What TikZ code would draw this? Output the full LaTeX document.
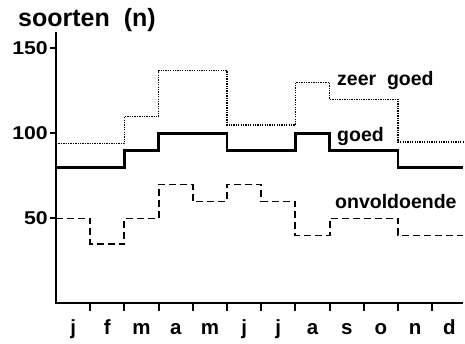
\documentclass[tikz,border=0pt]{standalone}
\usepackage{fontspec}
\setmainfont{Liberation Sans}
\begin{document}
\begin{tikzpicture}[x=1pt,y=1pt,
  axis/.style={line width=2pt},
  ytick/.style={anchor=east, inner sep=0pt, font=\fontsize{18.5}{20}\selectfont\bfseries},
  month/.style={anchor=base, inner sep=0pt, font=\fontsize{20.5}{22}\selectfont\bfseries},
  lbl/.style={anchor=base west, inner sep=0pt, font=\fontsize{19.5}{22}\selectfont\bfseries},
  zg/.style={line width=1.4pt, dash pattern=on 1.3pt off 1.1pt},
  gd/.style={line width=2.6pt},
  ov/.style={line width=1.9pt, dash pattern=on 7pt off 4pt}]
\useasboundingbox (0,0) rectangle (465,344);
\node[anchor=base west, inner sep=0pt, font=\fontsize{25}{30}\selectfont\bfseries] (title) at (18,317) {soorten\ \ (n)};
\begin{scope}[shift={(56,40.5)}, x=34.2pt, y=1.7pt]
  \coordinate (O) at (0,0);
  \coordinate (ytop) at (0,159.7);
  \coordinate (xend) at (11.9,0);
  \draw[axis] (ytop) -- (O) -- (xend);
  \foreach \v in {50,100,150} {
    \draw[axis] (0,\v) -- ++(-6pt,0);
    \node[ytick, xshift=-8pt] (y\v) at (0,\v) {\scalebox{1.15}[1]{\v}};
  }
  \foreach \i in {1,...,11} \draw[axis] (\i,0) -- ++(0,-8pt);
  \foreach \m [count=\i from 0] in {j,f,m,a,m,j,j,a,s,o,n,d}
    \node[month, yshift=-31.5pt] (m\i) at ({\i+0.5},0) {\m};
  \draw[zg] plot[const plot] coordinates {(0,94) (2,110) (3,137) (5,105) (7,130) (8,120) (10,95) (11.9,95)};
  \draw[gd] plot[const plot] coordinates {(0,80) (2,90) (3,100) (5,90) (7,100) (8,90) (10,80) (11.9,80)};
  \draw[ov] plot[const plot] coordinates {(0,50) (1,35) (2,50) (3,70) (4,60) (5,70) (6,60) (7,40) (8,50) (10,40) (11.9,40)};
\end{scope}
\node[lbl] (lzg) at (337,258) {zeer\ \ goed};
\node[lbl] (lgd) at (337,202) {goed};
\node[lbl] (lov) at (335,135) {onvoldoende};
\end{tikzpicture}
\end{document}
